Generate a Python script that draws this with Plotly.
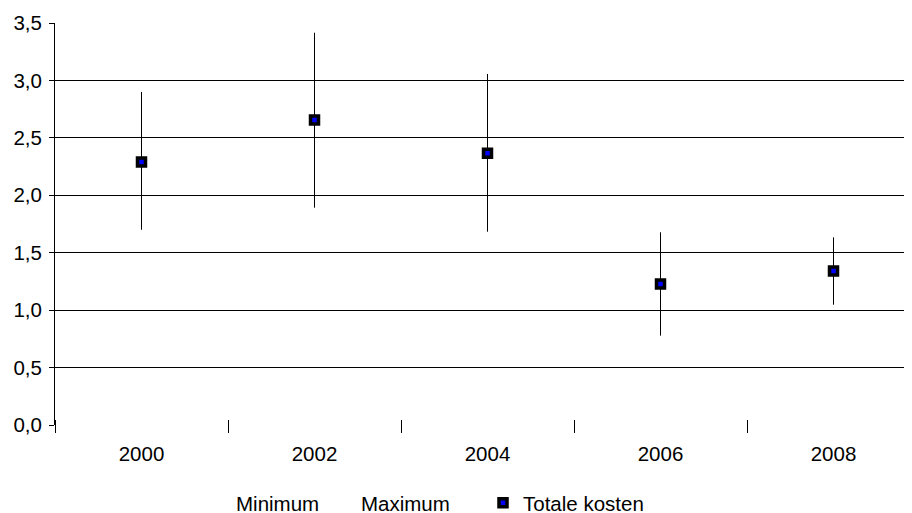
import plotly.graph_objects as go

years = ["2000", "2002", "2004", "2006", "2008"]
totale_kosten = [2.29, 2.655, 2.365, 1.228, 1.341]
minimum = [1.70, 1.892, 1.683, 0.778, 1.047]
maximum = [2.90, 3.415, 3.056, 1.678, 1.634]
y_ticks = [0, 0.5, 1.0, 1.5, 2.0, 2.5, 3.0, 3.5]
y_ticktext = ["0,0", "0,5", "1,0", "1,5", "2,0", "2,5", "3,0", "3,5"]

W, H = 912, 513
OFF = 8  # page body margin offset
FONT = dict(family="Liberation Sans, Arial, sans-serif", size=20.5, color="black")

xs = list(range(len(years)))
boundaries = [i - 0.5 for i in range(len(years) + 1)]

fig = go.Figure()

fig.add_trace(go.Scatter(
    x=xs, y=minimum, name="Minimum", mode="lines",
    line=dict(width=0, color="rgba(0,0,0,0)"), legend="legend", hoverinfo="skip",
))
fig.add_trace(go.Scatter(
    x=xs, y=maximum, name="Maximum", mode="lines",
    line=dict(width=0, color="rgba(0,0,0,0)"), legend="legend2", hoverinfo="skip",
))
fig.add_trace(go.Scatter(
    x=xs, y=totale_kosten, name="Totale kosten", mode="markers",
    marker=dict(symbol="square", size=8, color="#0000FF",
                line=dict(color="black", width=3.5)),
    error_y=dict(type="data", symmetric=False,
                 array=[mx - v for mx, v in zip(maximum, totale_kosten)],
                 arrayminus=[v - mn for mn, v in zip(minimum, totale_kosten)],
                 color="black", thickness=1, width=0),
    legend="legend3",
))

xrange = [-0.5, 4.5]
leg_y = 1 - (503 - OFF) / H
plot_h = 425 - 23

fig.update_layout(
    width=W, height=H,
    margin=dict(l=55 - OFF, r=0, t=23 - OFF, b=H - (425 - OFF), autoexpand=False),
    paper_bgcolor="white", plot_bgcolor="white",
    font=FONT,
    xaxis=dict(
        range=xrange, tickmode="array", tickvals=xs, ticktext=years,
        ticks="", showgrid=False, zeroline=False, automargin=False,
        showline=False, ticklabelstandoff=14,
    ),
    xaxis2=dict(
        range=xrange, overlaying="x", side="bottom", anchor="free",
        position=6 / plot_h, automargin=False,
        tickmode="array", tickvals=boundaries, ticks="outside", ticklen=13,
        tickcolor="black", tickwidth=1, showticklabels=False,
        showgrid=False, zeroline=False, showline=False,
    ),
    yaxis=dict(
        range=[0, 3.5], tickmode="array", tickvals=y_ticks, ticktext=y_ticktext,
        ticks="outside", ticklen=5, tickcolor="black", tickwidth=1,
        showgrid=True, gridcolor="black", gridwidth=1, automargin=False,
        zeroline=False, showline=True, linecolor="black", linewidth=1,
        ticklabelstandoff=3,
    ),
    legend=dict(orientation="h", xref="container", yref="container",
                x=(237 - 49) / W, y=leg_y, xanchor="left", yanchor="middle",
                bgcolor="rgba(0,0,0,0)", font=FONT),
    legend2=dict(orientation="h", xref="container", yref="container",
                 x=(362 - 49) / W, y=leg_y, xanchor="left", yanchor="middle",
                 bgcolor="rgba(0,0,0,0)", font=FONT),
    legend3=dict(orientation="h", xref="container", yref="container",
                 x=(503 - 28) / W, y=leg_y, xanchor="left", yanchor="middle",
                 bgcolor="rgba(0,0,0,0)", font=FONT),
    showlegend=True,
)

# dummy trace to activate xaxis2 (boundary ticks crossing the axis)
fig.add_trace(go.Scatter(x=[None], y=[None], xaxis="x2", yaxis="y",
                         showlegend=False, hoverinfo="skip"))

fig.write_html("out.html")
